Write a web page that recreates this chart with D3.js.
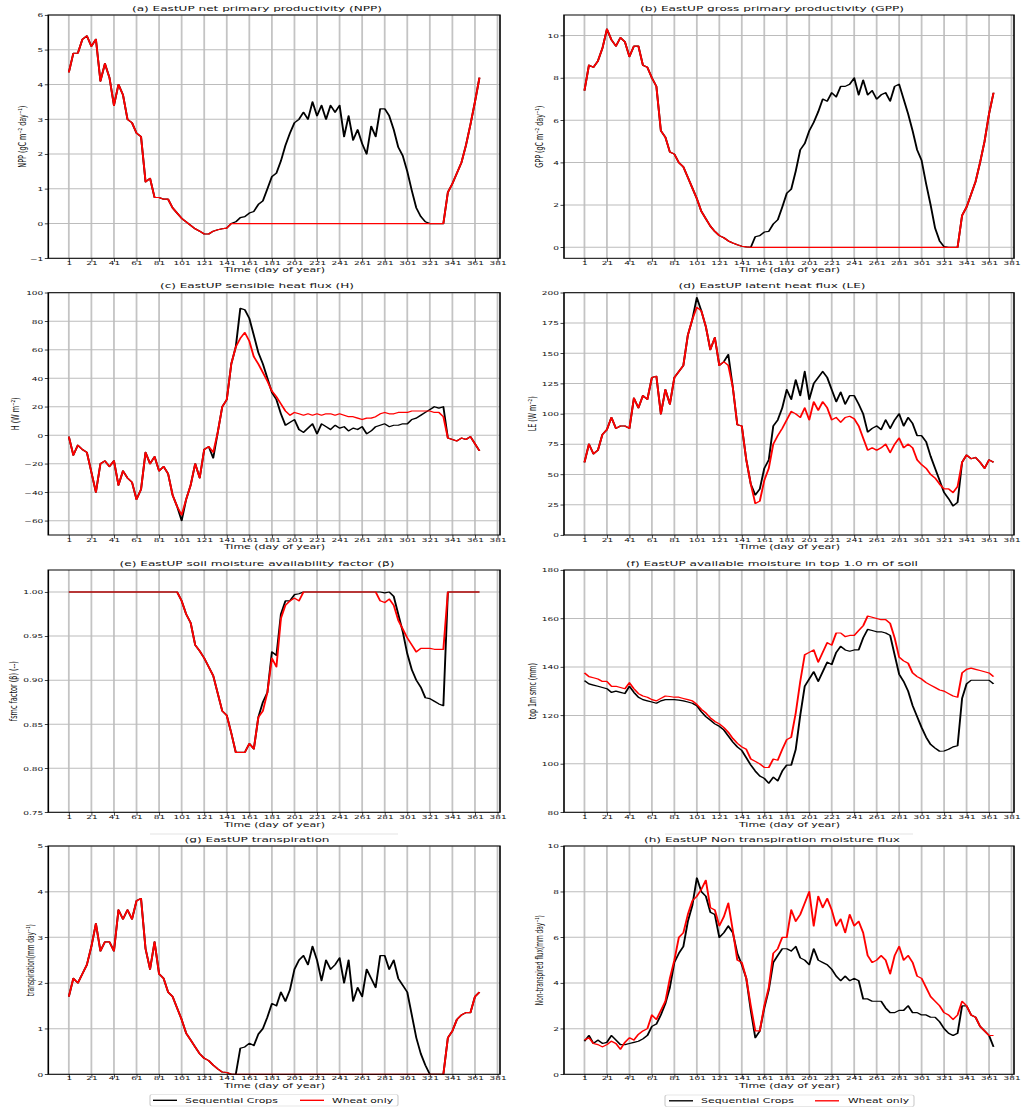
<!DOCTYPE html>
<html><head><meta charset="utf-8">
<script src="https://cdn.jsdelivr.net/npm/d3@7"></script>
<style>body{margin:0;background:#fff}svg{display:block}text{font-family:"DejaVu Sans",sans-serif}</style>
</head><body><svg id="c" width="1021" height="1110"></svg>
<script>
// ---------------- DATA (values every 4th day: 1,5,9,...,365) ----------------
const days = d3.range(1, 366, 4);
const xTickLabels = [1,21,41,61,81,101,121,141,161,181,201,221,241,261,281,301,321,341,361,381];
const seriesNames = ["Sequential Crops", "Wheat only"];

const nppSeq = [4.35,4.9,4.9,5.3,5.4,5.1,5.3,4.1,4.6,4.2,
 3.4,4.0,3.7,3.0,2.9,2.6,2.5,1.2,1.3,0.75,
 0.75,0.7,0.7,0.45,0.3,0.15,0.05,-0.05,-0.15,-0.22,
 -0.3,-0.3,-0.22,-0.18,-0.15,-0.13,0.0,0.05,0.17,0.2,
 0.3,0.35,0.55,0.65,1.0,1.35,1.45,1.8,2.25,2.6,
 2.9,3.0,3.2,3.0,3.5,3.1,3.4,3.0,3.4,3.2,
 3.4,2.5,3.1,2.4,2.7,2.3,2.0,2.8,2.5,3.3,
 3.3,3.1,2.7,2.2,1.95,1.5,0.95,0.45,0.2,0.05,
 0,0,0,0,0.9,1.15,1.45,1.75,2.25,2.85,
 3.5,4.2];
const nppWheat = [4.35,4.9,4.9,5.3,5.4,5.1,5.3,4.1,4.6,4.2,
 3.4,4.0,3.7,3.0,2.9,2.6,2.5,1.2,1.3,0.75,
 0.75,0.7,0.7,0.45,0.3,0.15,0.05,-0.05,-0.15,-0.22,
 -0.3,-0.3,-0.22,-0.18,-0.15,-0.13,0,0,0,0,
 0,0,0,0,0,0,0,0,0,0,
 0,0,0,0,0,0,0,0,0,0,
 0,0,0,0,0,0,0,0,0,0,
 0,0,0,0,0,0,0,0,0,0,
 0,0,0,0,0.9,1.15,1.45,1.75,2.25,2.85,
 3.5,4.2];

const gppSeq = [7.4,8.6,8.5,8.8,9.4,10.3,9.8,9.5,9.9,9.7,
 9.0,9.5,9.5,8.6,8.5,8.0,7.6,5.5,5.2,4.5,
 4.4,4.0,3.8,3.3,2.8,2.3,1.7,1.35,1.0,0.75,
 0.55,0.45,0.3,0.2,0.12,0.05,0.02,0,0.5,0.55,
 0.72,0.75,1.1,1.3,1.9,2.55,2.75,3.6,4.6,4.9,
 5.5,5.9,6.4,7.0,6.9,7.3,7.1,7.6,7.6,7.7,
 8.0,7.2,7.9,7.2,7.4,7.0,7.2,7.3,6.9,7.6,
 7.7,7.0,6.3,5.5,4.6,4.1,3.0,2.0,0.9,0.3,
 0.03,0,0,0,1.5,1.9,2.5,3.1,4.0,5.0,
 6.3,7.3];
const gppWheat = [7.4,8.6,8.5,8.8,9.4,10.3,9.8,9.5,9.9,9.7,
 9.0,9.5,9.5,8.6,8.5,8.0,7.6,5.5,5.2,4.5,
 4.4,4.0,3.8,3.3,2.8,2.3,1.7,1.35,1.0,0.75,
 0.55,0.45,0.3,0.2,0.12,0.05,0.02,0,0,0,
 0,0,0,0,0,0,0,0,0,0,
 0,0,0,0,0,0,0,0,0,0,
 0,0,0,0,0,0,0,0,0,0,
 0,0,0,0,0,0,0,0,0,0,
 0,0,0,0,1.5,1.9,2.5,3.1,4.0,5.0,
 6.3,7.3];

const hSeq = [-1,-14,-7,-10,-12,-26,-40,-20,-18,-22,
 -18,-35,-25,-30,-33,-45,-38,-12,-20,-15,
 -25,-22,-27,-42,-50,-60,-45,-35,-20,-30,
 -10,-8,-16,2,20,25,50,62,89,88,
 82,70,58,50,40,30,25,15,7,9,
 11,4,2,5,8,1,8,6,4,7,
 5,6,3,5,4,6,1,3,6,7,
 8,6,7,7,8,8,11,12,14,16,
 18,20,19,20,-2,-3,-4,-2,-3,-1,
 -6,-11];
const hWheat = [-1,-14,-7,-10,-12,-26,-40,-20,-18,-22,
 -18,-35,-25,-30,-33,-45,-38,-12,-20,-15,
 -25,-22,-27,-42,-50,-56,-45,-35,-20,-30,
 -10,-8,-12,2,20,25,50,62,68,72,
 66,55,50,44,38,31,27,22,17,14,
 16,15,14,15,14,15,14,15,15,14,
 15,14,13,13,12,11,12,12,13,15,
 16,15,15,16,16,16,17,17,17,17,
 17,16,16,13,-2,-3,-4,-2,-3,-1,
 -6,-11];

const leSeq = [60,75,67,70,83,87,97,88,90,90,
 88,113,105,115,112,130,131,100,120,108,
 130,135,140,165,178,196,185,172,153,163,
 140,143,149,122,91,90,62,42,33,38,
 55,62,90,95,105,120,112,128,115,135,
 112,125,130,135,130,120,110,118,108,115,
 115,108,100,85,88,90,87,95,88,95,
 100,90,97,92,82,82,77,65,55,45,
 35,30,24,27,60,66,63,64,60,55,
 62,60];
const leWheat = [60,75,67,70,83,87,97,88,90,90,
 88,113,105,115,112,130,131,100,120,108,
 130,135,140,165,178,188,185,172,153,163,
 140,143,140,122,91,90,62,42,26,28,
 45,55,75,82,88,95,102,100,97,105,
 95,110,103,110,105,95,97,93,97,98,
 96,90,80,70,72,70,72,75,68,75,
 80,72,75,72,62,58,55,50,47,42,
 38,38,35,40,60,66,63,64,60,55,
 62,60];

const betaSeq = [1,1,1,1,1,1,1,1,1,1,
 1,1,1,1,1,1,1,1,1,1,
 1,1,1,1,1,0.99,0.975,0.965,0.94,0.933,
 0.925,0.915,0.905,0.885,0.865,0.86,0.84,0.818,0.818,0.818,
 0.828,0.822,0.858,0.875,0.886,0.932,0.928,0.975,0.99,0.99,
 0.997,0.998,1,1,1,1,1,1,1,1,
 1,1,1,1,1,1,1,1,1,1,
 0.999,1,0.995,0.975,0.955,0.93,0.912,0.9,0.892,0.88,
 0.879,0.876,0.873,0.871,1,1,1,1,1,1,
 1,1];
const betaWheat = [1,1,1,1,1,1,1,1,1,1,
 1,1,1,1,1,1,1,1,1,1,
 1,1,1,1,1,0.99,0.975,0.965,0.94,0.933,
 0.925,0.915,0.905,0.885,0.865,0.86,0.84,0.818,0.818,0.818,
 0.828,0.822,0.858,0.865,0.886,0.925,0.915,0.97,0.985,0.99,
 0.993,0.99,1,1,1,1,1,1,1,1,
 1,1,1,1,1,1,1,1,1,0.99,
 0.988,0.992,0.985,0.968,0.958,0.948,0.94,0.932,0.936,0.936,
 0.936,0.935,0.935,0.935,1,1,1,1,1,1,
 1,1];

const smcSeq = [134.3,133,132.5,132,131.5,131,129.5,130,129.5,129,
 132,129.5,127.5,126.5,126,125.5,125,126,126.5,126.5,
 126.5,126.3,126,125.5,125,124,121.5,119.5,118,116.5,
 115.5,114,111.5,109,107,105.5,102.5,99.5,97,95,
 94,92,94.5,93,97,99.5,99.5,106,120,132,
 135,138,134,138,142,141,146,148.5,147,146.5,
 147,147,152,155.5,155,154.5,154.5,154,153,145,
 137,134,130,124,119.5,115,111,108,106.5,105.2,
 105.3,106,107,107.5,127,133,134.5,134.5,134.5,134.5,
 134.5,133];
const smcWheat = [137.5,136,135.5,135,134,134,132,132,131.5,131,
 133.5,131,129,128,127.5,126.5,126,127,128,127.8,
 127.5,127.5,127,126.5,126,124.5,122.5,121,119,117.5,
 116.5,115,113,110.5,108.5,107,106,102,101,100,
 98.5,98.5,102,101.5,106,110,111,121,134,145,
 146,147,142,146,150,149,154,154,152.5,153,
 153,155,157,161,160.5,160,159.5,159.5,158,152,
 144,142.5,141.5,137.5,136,135,133.5,132.5,131.5,130.5,
 130,129,128,127.5,137.5,139,139.5,139,138.5,138,
 137.5,136];

const trSeq = [1.7,2.1,2.0,2.2,2.4,2.8,3.3,2.7,2.9,2.9,
 2.7,3.6,3.4,3.6,3.4,3.8,3.85,2.75,2.3,2.9,
 2.2,2.1,1.8,1.7,1.45,1.2,0.9,0.75,0.6,0.45,
 0.35,0.3,0.2,0.12,0.05,0.04,0,0,0.57,0.6,
 0.68,0.63,0.88,1.0,1.25,1.55,1.5,1.8,1.6,1.85,
 2.3,2.5,2.6,2.4,2.8,2.5,2.05,2.5,2.3,2.4,
 2.55,2.0,2.5,1.6,1.9,1.7,2.3,2.1,1.9,2.6,
 2.6,2.3,2.5,2.1,1.95,1.8,1.3,0.8,0.45,0.2,
 0,0,0,0,0.8,0.95,1.2,1.3,1.35,1.35,
 1.7,1.8];
const trWheat = [1.7,2.1,2.0,2.2,2.4,2.8,3.3,2.7,2.9,2.9,
 2.7,3.6,3.4,3.6,3.4,3.8,3.85,2.75,2.3,2.9,
 2.2,2.1,1.8,1.7,1.45,1.2,0.9,0.75,0.6,0.45,
 0.35,0.3,0.2,0.12,0.05,0.04,0,0,0,0,
 0,0,0,0,0,0,0,0,0,0,
 0,0,0,0,0,0,0,0,0,0,
 0,0,0,0,0,0,0,0,0,0,
 0,0,0,0,0,0,0,0,0,0,
 0,0,0,0,0.8,0.95,1.2,1.3,1.35,1.35,
 1.7,1.8];

const ntSeq = [1.45,1.7,1.35,1.5,1.35,1.4,1.7,1.5,1.3,1.3,
 1.35,1.4,1.45,1.55,1.7,2.1,2.2,2.6,3.1,3.8,
 4.9,5.3,5.6,6.7,7.4,8.6,8.0,7.8,7.1,7.0,
 6.0,6.2,6.5,6.2,5.3,4.8,4.2,2.8,1.6,1.9,
 2.9,3.7,4.9,5.2,5.5,5.5,5.4,5.6,5.1,5.0,
 4.8,5.5,5.0,4.9,4.8,4.6,4.3,4.1,4.3,4.1,
 4.2,4.1,3.3,3.3,3.2,3.2,3.2,2.9,2.7,2.7,
 2.8,2.8,3.0,2.7,2.7,2.6,2.6,2.5,2.5,2.3,
 2.0,1.8,1.7,1.8,3.0,3.0,2.6,2.5,2.1,1.9,
 1.7,1.2];
const ntWheat = [1.5,1.6,1.35,1.3,1.2,1.3,1.45,1.35,1.1,1.4,
 1.6,1.5,1.75,1.9,2.0,2.6,2.4,2.8,3.2,4.2,
 5.0,6.0,6.2,7.0,7.6,7.8,8.1,8.5,7.3,7.2,
 6.5,6.9,7.5,6.3,5.0,4.9,4.2,3.0,1.9,1.9,
 3.0,3.8,5.3,5.5,6.0,6.0,7.2,6.7,7.0,7.5,
 8.0,6.5,7.8,7.3,7.7,7.2,6.5,6.8,6.2,7.0,
 6.5,6.7,6.2,5.2,4.9,5.0,5.2,5.0,4.4,5.2,
 5.6,5.0,5.2,4.9,4.3,4.2,3.8,3.4,3.2,3.0,
 2.7,2.6,2.4,2.6,3.2,3.0,2.6,2.5,2.1,1.9,
 1.7,1.7];

// ---------------- LAYOUT ----------------
const SY = 0.62;               // vertical squeeze of the original figure
const Y = p => p / SY;
const svg = d3.select('#c');
const root = svg.append('g').attr('transform', `scale(1,${SY})`);

const cols = [
  {l:48.3, r:500, titleX:257, xlabX:274.5},
  {l:564, r:1014, titleX:772, xlabX:789.5}
];
const rows = [
  {t:15, b:258.3, titleY:9, tickY:263, xlabY:269.5},
  {t:292.7, b:535, titleY:286, tickY:540, xlabY:547},
  {t:570, b:812.3, titleY:563.5, tickY:817.5, xlabY:824.5},
  {t:846, b:1074.3, titleY:840, tickY:1078.5, xlabY:1085.5}
];

const panels = [
 {c:0,r:0,title:'(a) EastUP net primary productivity (NPP)',tl:250,seq:nppSeq,wh:nppWheat,dom:[-1,6],ticks:[-1,0,1,2,3,4,5,6],fmt:d3.format('d'),
  yl:['NPP ','(gC m','⁻²',' day','⁻¹',')'],ylx:22,yll:62},
 {c:1,r:0,title:'(b) EastUP gross primary productivity (GPP)',tl:264,seq:gppSeq,wh:gppWheat,dom:[-0.52,10.97],ticks:[0,2,4,6,8,10],fmt:d3.format('d'),
  yl:['GPP ','(gC m','⁻²',' day','⁻¹',')'],ylx:539,yll:62},
 {c:0,r:1,title:'(c) EastUP sensible heat flux (H)',tl:194,seq:hSeq,wh:hWheat,dom:[-70,100],ticks:[-60,-40,-20,0,20,40,60,80,100],fmt:d3.format('d'),
  yl:['H ','(W m','⁻²',')'],ylx:15,yll:33},
 {c:1,r:1,title:'(d) EastUP latent heat flux (LE)',tl:187,seq:leSeq,wh:leWheat,dom:[0,200],ticks:[0,25,50,75,100,125,150,175,200],fmt:d3.format('d'),
  yl:['LE ','(W m','⁻²',')'],ylx:532,yll:35},
 {c:0,r:2,title:'(e) EastUP soil moisture availability factor (β)',tl:275,seq:betaSeq,wh:betaWheat,dom:[0.75,1.025],ticks:[0.75,0.8,0.85,0.9,0.95,1.0],fmt:d3.format('.2f'),
  yl:['fsmc factor (','β',') (--)'],ylx:13,yll:60},
 {c:1,r:2,title:'(f) EastUP available moisture in top 1.0 m of soil',tl:292,seq:smcSeq,wh:smcWheat,dom:[80,180],ticks:[80,100,120,140,160,180],fmt:d3.format('d'),
  yl:['top 1m smc (mm)'],ylx:532,yll:56},
 {c:0,r:3,title:'(g) EastUP transpiration',tl:145,seq:trSeq,wh:trWheat,dom:[0,5],ticks:[0,1,2,3,4,5],fmt:d3.format('d'),
  yl:['transpiration(mm day','⁻¹',')'],ylx:30,yll:72},
 {c:1,r:3,title:'(h) EastUP Non transpiration moisture flux',tl:256,seq:ntSeq,wh:ntWheat,dom:[0,10],ticks:[0,2,4,6,8,10],fmt:d3.format('d'),
  yl:['Non-transpired flux(mm day','⁻¹',')'],ylx:539,yll:90}
];

const minus = s => s.replace('-', '\u2212');

panels.forEach(p => {
  const c = cols[p.c], r = rows[p.r];
  const x = d3.scaleLinear().domain([-17.2, 383.2]).range([c.l, c.r]);
  const y = d3.scaleLinear().domain(p.dom).range([Y(r.b), Y(r.t)]);
  const g = root.append('g');

  // grid
  g.append('g').selectAll('line').data(xTickLabels).join('line')
    .attr('x1', d => x(d)).attr('x2', d => x(d)).attr('y1', Y(r.t)).attr('y2', Y(r.b))
    .attr('stroke', '#c4c4c4').attr('stroke-width', 1.8);
  g.append('g').selectAll('line').data(p.ticks).join('line')
    .attr('x1', c.l).attr('x2', c.r).attr('y1', d => y(d)).attr('y2', d => y(d))
    .attr('stroke', '#bcbcbc').attr('stroke-width', 1.6);

  // axes
  const ax = g.append('g').attr('transform', `translate(0,${Y(r.b)})`)
    .call(d3.axisBottom(x).tickValues(xTickLabels).tickSize(3.5 / SY).tickSizeOuter(0).tickFormat(d3.format('d')));
  ax.select('.domain').remove();
  ax.selectAll('.tick line').attr('stroke', '#000').attr('stroke-width', 0.9);
  ax.selectAll('.tick text').attr('y', Y(r.tickY) - Y(r.b)).attr('dy', '0.35em')
    .attr('font-size', 9).attr('font-family', 'DejaVu Sans').attr('fill', '#111');

  const ay = g.append('g').attr('transform', `translate(${c.l},0)`)
    .call(d3.axisLeft(y).tickValues(p.ticks).tickSize(3.5).tickPadding(1.5).tickSizeOuter(0).tickFormat(d => minus(p.fmt(d))));
  ay.select('.domain').remove();
  ay.selectAll('.tick line').attr('stroke', '#000').attr('stroke-width', 1.2);
  ay.selectAll('.tick text').attr('dy', '0.36em')
    .attr('font-size', 9).attr('font-family', 'DejaVu Sans').attr('fill', '#111');

  // lines
  const mk = vals => days.map((d, i) => ({d, v: vals[i]}));
  const line = d3.line().x(o => x(o.d)).y(o => y(o.v));
  g.append('path').datum(mk(p.seq)).attr('d', line).attr('fill', 'none')
    .attr('stroke', '#000').attr('stroke-width', 1.9).attr('stroke-linejoin', 'round');
  g.append('path').datum(mk(p.wh)).attr('d', line).attr('fill', 'none')
    .attr('stroke', '#ff0000').attr('stroke-width', 1.9).attr('stroke-linejoin', 'round');

  // frame
  g.append('rect').attr('x', c.l).attr('y', Y(r.t)).attr('width', c.r - c.l).attr('height', Y(r.b) - Y(r.t))
    .attr('fill', 'none').attr('stroke', '#000').attr('stroke-width', 1.6);

  // title
  g.append('text').attr('x', c.titleX).attr('y', Y(r.titleY)).attr('text-anchor', 'middle')
    .attr('dominant-baseline', 'central').attr('font-size', 10).attr('fill', '#111')
    .attr('textLength', p.tl).attr('lengthAdjust', 'spacingAndGlyphs').text(p.title);
  // x label
  g.append('text').attr('x', c.xlabX).attr('y', Y(r.xlabY)).attr('text-anchor', 'middle')
    .attr('dominant-baseline', 'central').attr('font-size', 10).attr('fill', '#111')
    .attr('textLength', 101).attr('lengthAdjust', 'spacingAndGlyphs').text('Time (day of year)');
  // y label
  const yt = g.append('text').attr('transform', `translate(${p.ylx},${Y((r.t + r.b) / 2)}) rotate(-90)`)
    .attr('text-anchor', 'middle').attr('dominant-baseline', 'central').attr('font-size', 10).attr('fill', '#111')
    .attr('textLength', p.yll / SY).attr('lengthAdjust', 'spacingAndGlyphs');
  p.yl.forEach(s => yt.append('tspan').text(s));
});

// faint boxes edges seen under panels e/f
[[150, 398], [665, 913]].forEach(([a, b]) => {
  root.append('line').attr('x1', a).attr('x2', b).attr('y1', Y(834)).attr('y2', Y(834))
    .attr('stroke', '#e4e4e4').attr('stroke-width', 1.6);
});

// legends
const legends = [
  {bx:150, bw:248, by:1094.5, items:[{x1:153,x2:177,tx:185,tl:93},{x1:300,x2:324,tx:332,tl:61}]},
  {bx:665, bw:249, by:1095, items:[{x1:669,x2:693,tx:701,tl:93},{x1:815,x2:839,tx:848,tl:61}]}
];
const colors = ['#000', '#ff0000'];
legends.forEach(L => {
  const lg = root.append('g');
  lg.append('rect').attr('x', L.bx).attr('y', Y(L.by)).attr('width', L.bw).attr('height', 11.5 / SY)
    .attr('rx', 2).attr('ry', 2 / SY).attr('fill', '#fff').attr('stroke', '#cfcfcf').attr('stroke-width', 1.2);
  L.items.forEach((it, i) => {
    lg.append('line').attr('x1', it.x1).attr('x2', it.x2).attr('y1', Y(L.by + 5.8)).attr('y2', Y(L.by + 5.8))
      .attr('stroke', colors[i]).attr('stroke-width', 2.2);
    lg.append('text').attr('x', it.tx).attr('y', Y(L.by + 5.8)).attr('dominant-baseline', 'central')
      .attr('font-size', 10).attr('fill', '#111').attr('textLength', it.tl).attr('lengthAdjust', 'spacingAndGlyphs')
      .text(seriesNames[i]);
  });
});
</script>
</body></html>
